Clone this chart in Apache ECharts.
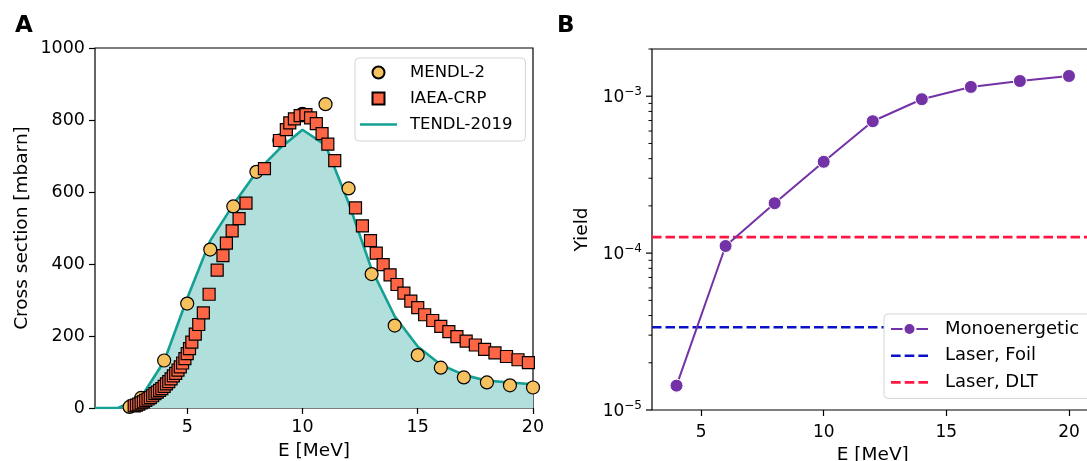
<!DOCTYPE html>
<html>
<head>
<meta charset="utf-8">
<script src="https://cdn.jsdelivr.net/npm/echarts@6/dist/echarts.min.js"></script>
<style>
html,body{margin:0;padding:0;background:#fff;}
#chart{width:1087px;height:461px;}
</style>
</head>
<body>
<div id="chart"></div>
<script>
// ---------- Panel A data ----------
const mendlE  = [2.5, 3, 4, 5, 6, 7, 8, 9, 10, 11, 12, 13, 14, 15, 16, 17, 18, 19, 20];
const mendlXS = [3, 28, 132, 290, 440, 560, 656, 743, 817, 844, 610, 372, 229, 147, 112, 85, 71, 63, 57];

const iaeaE  = [2.7, 2.8, 2.9, 3.0, 3.1, 3.2, 3.3, 3.4, 3.5, 3.6, 3.7, 3.8, 3.9, 4.0, 4.1, 4.2, 4.3, 4.4, 4.5, 4.6, 4.7, 4.8, 4.9, 5.0,
                5.1, 5.2, 5.35, 5.5, 5.7, 5.95, 6.3, 6.55, 6.7, 6.95, 7.25, 7.55, 8.35, 9.0, 9.3, 9.45, 9.65, 9.9, 10.15, 10.35,
                10.6, 10.85, 11.1, 11.4, 12.3, 12.6, 12.95, 13.2, 13.5, 13.8, 14.1, 14.4, 14.7, 15.0, 15.3, 15.65, 16.0, 16.35,
                16.7, 17.1, 17.5, 17.9, 18.35, 18.85, 19.35, 19.8];
const iaeaXS = [6, 8, 11, 14, 17, 21, 25, 29, 34, 40, 44, 49, 54, 60, 67, 73, 81, 89, 96, 105, 114, 125, 137, 151,
                165, 183, 205, 232, 264, 316, 383, 423, 458, 492, 526, 569, 665, 743, 773, 792, 803, 812, 815, 806,
                790, 762, 733, 687, 556, 506, 465, 430, 398, 370, 343, 319, 297, 279, 259, 243, 227, 212,
                198, 186, 175, 163, 153, 143, 134, 126];

const tendlE  = [1, 2, 3, 4, 5, 6, 7, 8, 9, 10, 11, 12, 13, 14, 15, 16, 17, 18, 19, 20];
const tendlXS = [0, 0, 30, 130, 305, 465, 565, 655, 720, 773, 730, 570, 385, 255, 171, 120, 92, 76, 71, 66];

const xRangeA = [1, 20];
const xTicksA = [5, 10, 15, 20];

// ---------- Panel B data ----------
const monoE     = [4, 6, 8, 10, 12, 14, 16, 18, 20];
const monoYield = [1.43e-5, 1.11e-4, 2.08e-4, 3.82e-4, 6.93e-4, 9.57e-4, 1.146e-3, 1.25e-3, 1.346e-3];
const laserFoilYield = 3.37e-5;
const laserDLTYield  = 1.265e-4;

const xRangeB = [3, 21];
const yRangeB = [1e-5, 2e-3];
const xTicksB = [5, 10, 15, 20];
const majorTicksB = [1e-5, 1e-4, 1e-3];
const minorTicksB = [2e-5, 3e-5, 4e-5, 5e-5, 6e-5, 7e-5, 8e-5, 9e-5,
                     2e-4, 3e-4, 4e-4, 5e-4, 6e-4, 7e-4, 8e-4, 9e-4, 2e-3];

const FONT = 'DejaVu Sans';
const zip = (a, b) => a.map((v, i) => [v, b[i]]);

const chart = echarts.init(document.getElementById('chart'), null, {renderer: 'canvas'});

const tickStyle = {color: '#000', width: 1.2};
const axisCommon = {
  axisLine: {show: false},
  splitLine: {show: false},
  axisTick: {show: true, inside: false, length: 6, lineStyle: tickStyle},
  axisLabel: {color: '#000', fontFamily: FONT, fontSize: 17.5},
  nameTextStyle: {color: '#000', fontFamily: FONT, fontSize: 18.5}
};

function supLabel(v) {
  const e = Math.round(Math.log10(v));
  return '{b|10}{s|' + (e < 0 ? '\u2212' : '') + Math.abs(e) + '}';
}

function tickSeries(name, values, len, lw) {
  return {
    name: name, type: 'custom', xAxisIndex: 1, yAxisIndex: 1,
    silent: true, clip: false,
    data: values.map(v => [xRangeB[0], v]),
    renderItem: function (params, api) {
      const p = api.coord([api.value(0), api.value(1)]);
      return {
        type: 'line',
        shape: {x1: p[0] - len, y1: p[1], x2: p[0], y2: p[1]},
        style: {stroke: '#000', lineWidth: lw}
      };
    },
    z: 5
  };
}

const SQ = 'path://M0,0L10,0L10,10L0,10Z';
const SOLID = 'path://M0,0L37,0L37,2.6L0,2.6Z';
const DASH = 'path://M0,0h9.5v2.6h-9.5z M13.5,0h9.5v2.6h-9.5z M27,0h9.5v2.6h-9.5z';

const option = {
  animation: false,
  backgroundColor: '#fff',
  textStyle: {fontFamily: FONT},
  graphic: [
    {type: 'text', left: 15, top: 15, style: {text: 'A', font: 'bold 23px "DejaVu Sans"', fill: '#000'}},
    {type: 'text', left: 557, top: 15, style: {text: 'B', font: 'bold 23px "DejaVu Sans"', fill: '#000'}}
  ],
  grid: [
    {left: 95, top: 48, width: 438, height: 360, outerBoundsMode: 'none', containLabel: false,
     show: true, borderColor: '#000', borderWidth: 1.2, backgroundColor: 'transparent'},
    {left: 652, top: 49, width: 441.5, height: 361, outerBoundsMode: 'none', containLabel: false,
     show: true, borderColor: '#000', borderWidth: 1.2, backgroundColor: 'transparent'}
  ],
  xAxis: [
    Object.assign({}, axisCommon, {
      type: 'value', gridIndex: 0, min: xRangeA[0], max: xRangeA[1],
      name: 'E [MeV]', nameLocation: 'middle', nameGap: 34,
      axisTick: {show: true, inside: false, length: 6, lineStyle: tickStyle, customValues: xTicksA},
      axisLabel: Object.assign({}, axisCommon.axisLabel, {customValues: xTicksA, margin: 10})
    }),
    Object.assign({}, axisCommon, {
      type: 'value', gridIndex: 1, min: xRangeB[0], max: xRangeB[1],
      name: 'E [MeV]', nameLocation: 'middle', nameGap: 36,
      axisTick: {show: true, inside: false, length: 6, lineStyle: tickStyle, customValues: xTicksB},
      axisLabel: Object.assign({}, axisCommon.axisLabel, {customValues: xTicksB, margin: 14, fontSize: 17})
    })
  ],
  yAxis: [
    Object.assign({}, axisCommon, {
      type: 'value', gridIndex: 0, min: 0, max: 1000, interval: 200,
      name: 'Cross section [mbarn]', nameLocation: 'middle', nameGap: 63,
      axisLabel: Object.assign({}, axisCommon.axisLabel, {margin: 10, formatter: v => String(v)})
    }),
    Object.assign({}, axisCommon, {
      type: 'log', logBase: 10, gridIndex: 1, min: yRangeB[0], max: yRangeB[1],
      name: 'Yield', nameLocation: 'middle', nameGap: 60,
      axisTick: {show: false},
      axisLabel: {
        color: '#000', fontFamily: FONT, margin: 10, showMaxLabel: false,
        formatter: supLabel,
        rich: {
          b: {fontSize: 17, fontFamily: FONT, color: '#000', lineHeight: 20, verticalAlign: 'bottom'},
          s: {fontSize: 12, fontFamily: FONT, color: '#000', lineHeight: 12, verticalAlign: 'top'}
        }
      }
    })
  ],
  legend: [
    {
      orient: 'vertical', left: 355, top: 58,
      data: [{name: 'MENDL-2', icon: 'circle'}, {name: 'IAEA-CRP', icon: SQ}, {name: 'TENDL-2019', icon: SOLID}],
      itemWidth: 37, itemHeight: 12, itemGap: 9, symbolKeepAspect: true,
      padding: [6, 13, 8, 5],
      backgroundColor: '#fff', borderColor: '#d5d5d5', borderWidth: 1, borderRadius: 4,
      textStyle: {fontFamily: FONT, fontSize: 16.5, color: '#000', lineHeight: 16, padding: [0, 0, 0, 8]}
    },
    {
      orient: 'vertical', left: 884, top: 314,
      data: ['Monoenergetic', {name: 'Laser, Foil', icon: DASH}, {name: 'Laser, DLT', icon: DASH}],
      itemWidth: 37, itemHeight: 15, itemGap: 8.7, symbolKeepAspect: true,
      padding: [6, 14, 7, 6],
      backgroundColor: '#fff', borderColor: '#d5d5d5', borderWidth: 1, borderRadius: 4,
      textStyle: {fontFamily: FONT, fontSize: 18, color: '#000', lineHeight: 18, padding: [0, 0, 0, 12]}
    }
  ],
  series: [
    {
      name: 'TENDL-2019', type: 'line', xAxisIndex: 0, yAxisIndex: 0,
      data: zip(tendlE, tendlXS), showSymbol: false, symbol: 'none', smooth: false,
      lineStyle: {color: '#14a093', width: 2.6},
      itemStyle: {color: '#14a093'},
      areaStyle: {color: '#b1e0dc', opacity: 1},
      z: 2
    },
    {
      name: 'MENDL-2', type: 'scatter', xAxisIndex: 0, yAxisIndex: 0,
      data: zip(mendlE, mendlXS), symbol: 'circle', symbolSize: 13,
      itemStyle: {color: '#f6c25f', borderColor: '#000', borderWidth: 1.2, opacity: 1},
      z: 3
    },
    {
      name: 'IAEA-CRP', type: 'scatter', xAxisIndex: 0, yAxisIndex: 0,
      data: zip(iaeaE, iaeaXS), symbol: 'rect', symbolSize: 12,
      itemStyle: {color: '#fd6545', borderColor: '#000', borderWidth: 1.2, opacity: 1},
      z: 4
    },
    {
      name: 'Laser, Foil', type: 'line', xAxisIndex: 1, yAxisIndex: 1,
      data: xRangeB.map(x => [x, laserFoilYield]), symbol: 'none', showSymbol: false,
      lineStyle: {color: '#0a12c8', width: 2.6, type: [9.5, 4]},
      itemStyle: {color: '#0a12c8'},
      z: 2
    },
    {
      name: 'Laser, DLT', type: 'line', xAxisIndex: 1, yAxisIndex: 1,
      data: xRangeB.map(x => [x, laserDLTYield]), symbol: 'none', showSymbol: false,
      lineStyle: {color: '#ff1744', width: 2.6, type: [9.5, 4]},
      itemStyle: {color: '#ff1744'},
      z: 2
    },
    {
      name: 'Monoenergetic', type: 'line', xAxisIndex: 1, yAxisIndex: 1,
      data: zip(monoE, monoYield), symbol: 'circle', symbolSize: 13, showSymbol: true,
      lineStyle: {color: '#7332a6', width: 2},
      itemStyle: {color: '#7332a6', borderColor: '#fff', borderWidth: 1},
      z: 3
    },
    tickSeries('majorTicksB', majorTicksB, 6, 1.2),
    tickSeries('minorTicksB', minorTicksB, 3.5, 1)
  ]
};

chart.setOption(option);
</script>
</body>
</html>
